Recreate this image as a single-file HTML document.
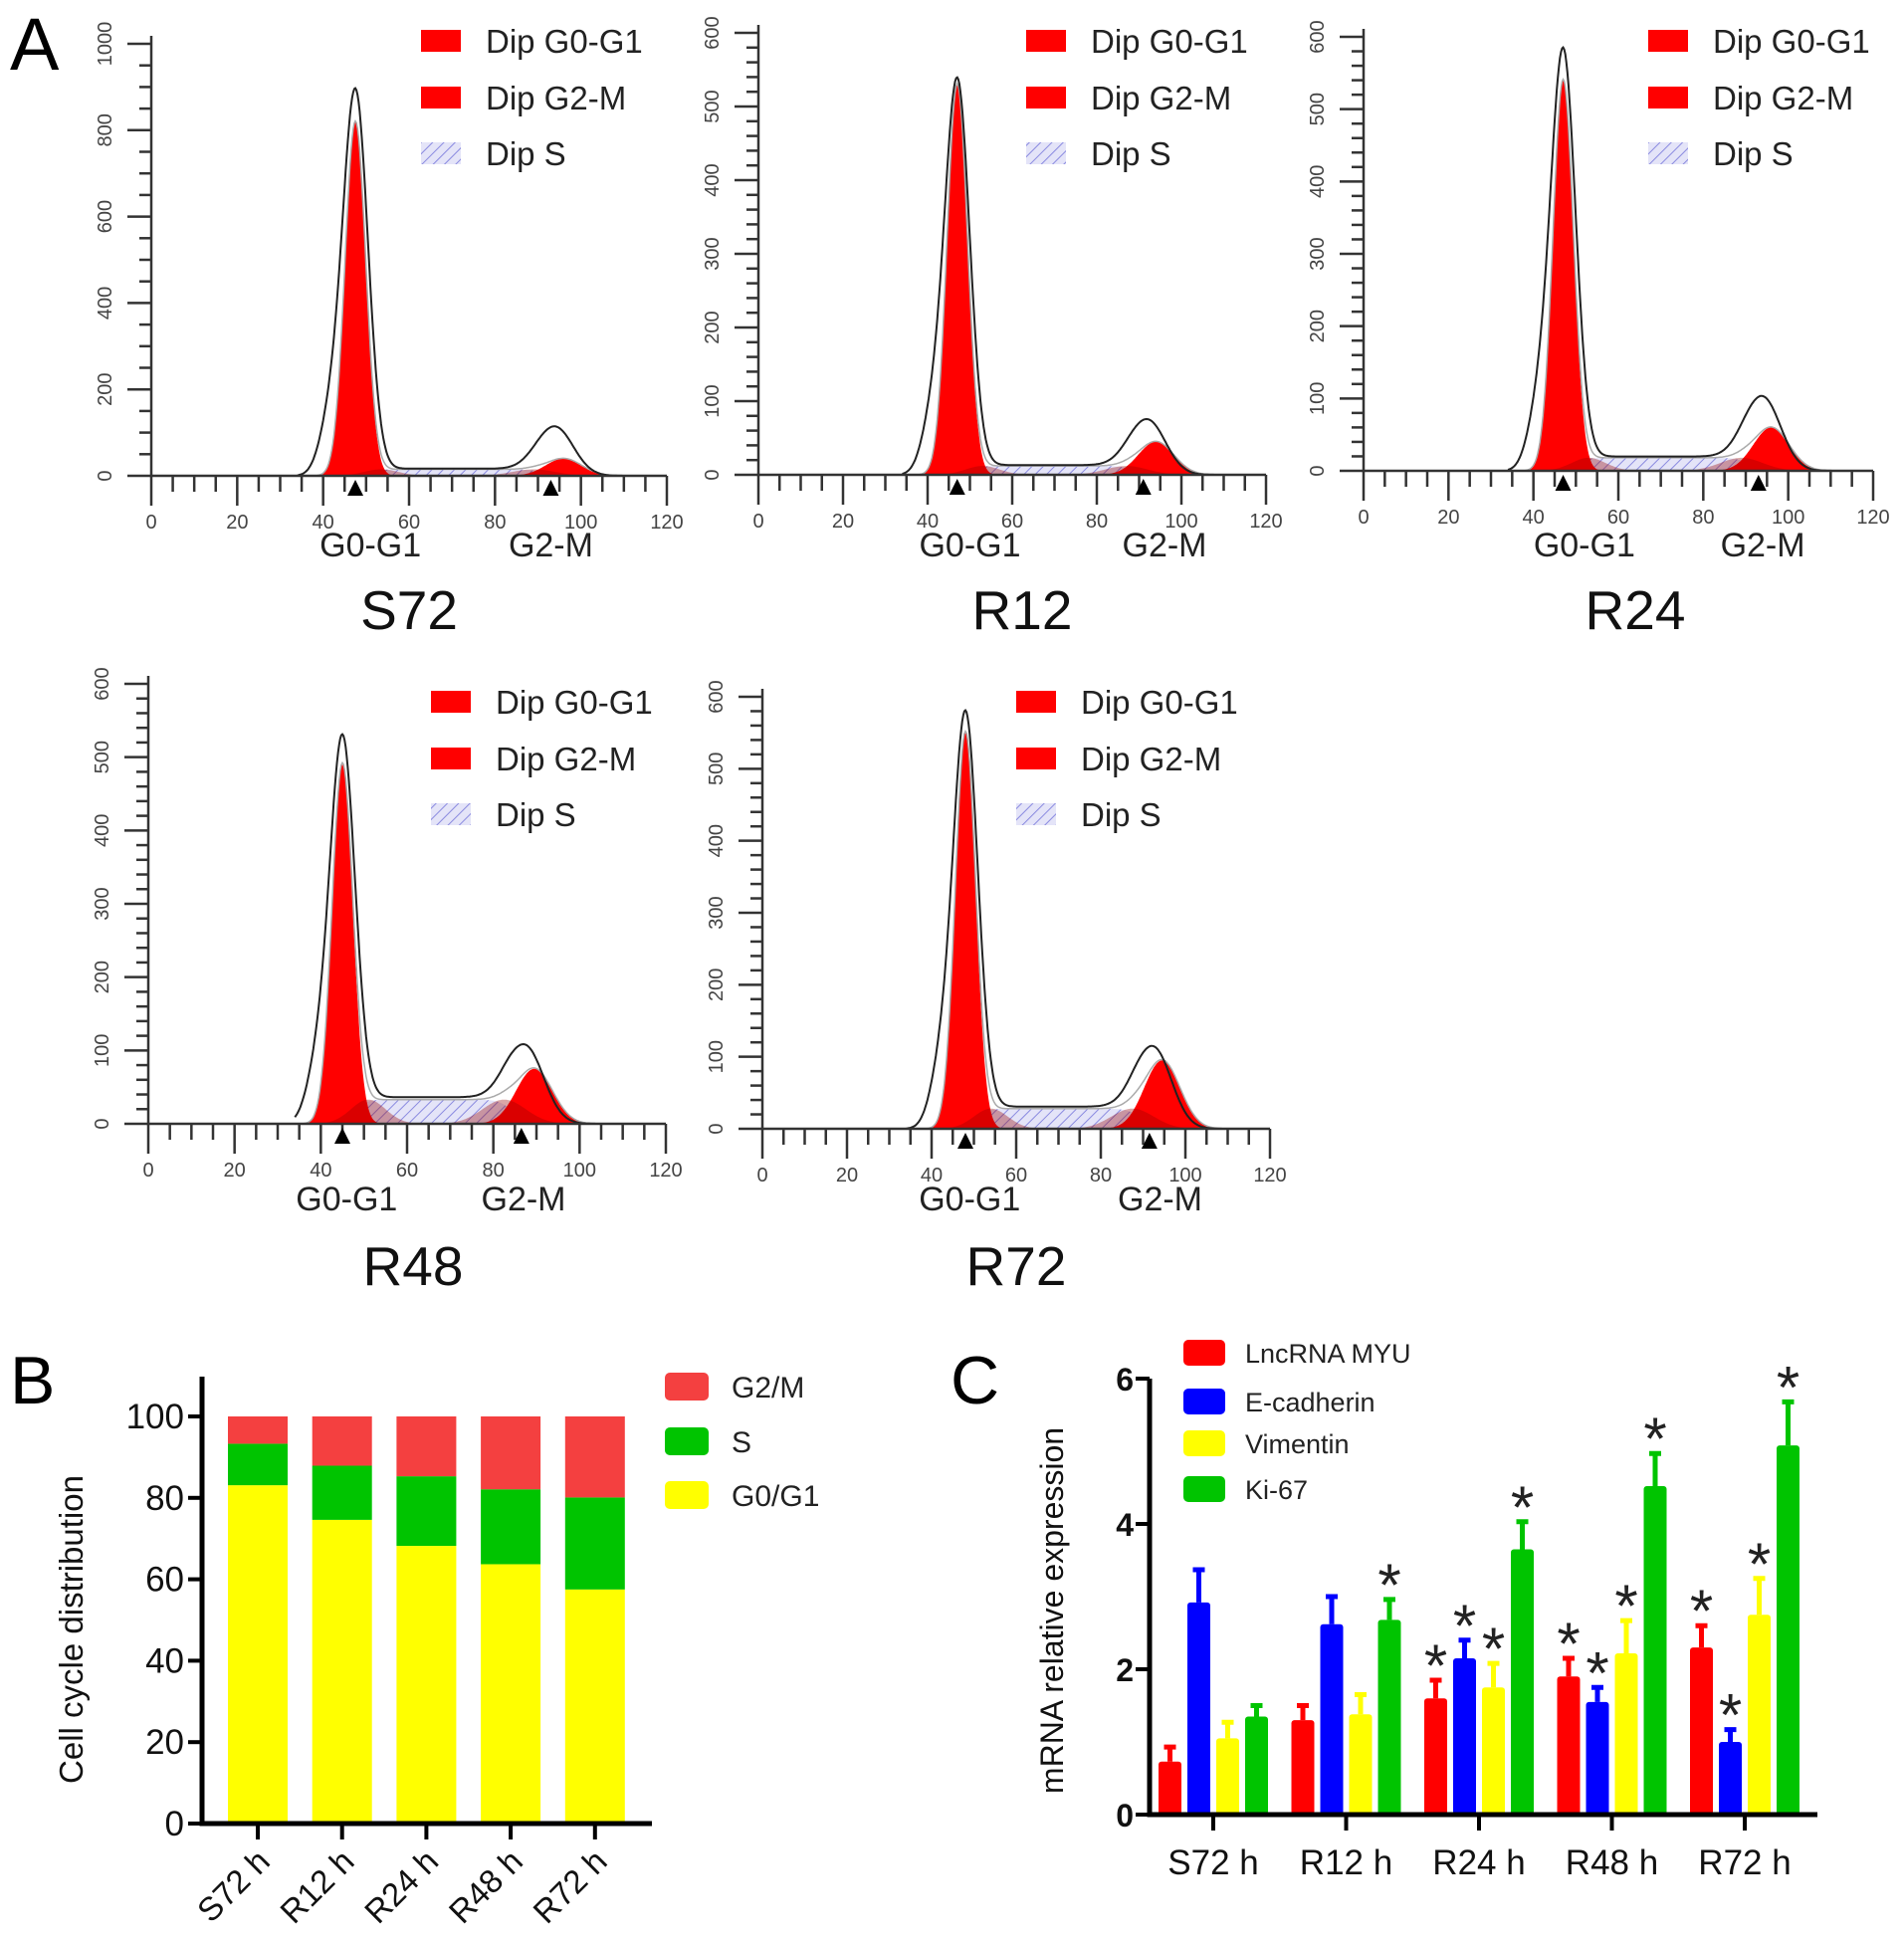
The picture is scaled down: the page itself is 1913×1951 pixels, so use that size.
<!DOCTYPE html>
<html><head><meta charset="utf-8"><style>
html,body{margin:0;padding:0;background:#fff}
svg{display:block}
text{font-family:"Liberation Sans",Arial,sans-serif}
</style></head><body>
<svg id="fig" width="1913" height="1951" viewBox="0 0 1913 1951" xmlns="http://www.w3.org/2000/svg">
<defs>
<pattern id="hatch" patternUnits="userSpaceOnUse" width="8" height="8" patternTransform="rotate(45)">
<rect width="8" height="8" fill="#e4e4f8"/><line x1="0" y1="0" x2="0" y2="8" stroke="#8a8ae0" stroke-width="2"/>
</pattern>
</defs>
<text x="10" y="70" font-size="74">A</text>
<text x="10" y="1410" font-size="68">B</text>
<text x="955" y="1410" font-size="68">C</text>
<g id="histos"></g>
<g id="chartB"></g>
<g id="chartC"></g>
</svg>
<script>
// ---------- Panel A data ----------
const histNames = ["S72","R12","R24","R48","R72"];
const histYMax = [1000,600,600,600,600];
const histG1Mean = [47.5,47,47,45,48];
const histG1Peak = [820,530,540,490,550];
const histG1Total = [890,535,580,525,575];
const histG2Mean = [95,93,95,88.5,93.5];
const histG2Peak = [40,45,60,75,95];
const histG2Total = [120,80,110,120,125];
const histSLevel = [15,12,18,33,28];
// ---------- Panel B data ----------
const bCats = ["S72 h","R12 h","R24 h","R48 h","R72 h"];
const bG1 = [83.1,74.6,68.2,63.7,57.5];
const bS = [10.2,13.3,17.1,18.4,22.6];
const bG2 = [6.7,12.1,14.7,17.9,19.9];
const bTicks = [0,20,40,60,80,100];
// ---------- Panel C data ----------
const cCats = ["S72 h","R12 h","R24 h","R48 h","R72 h"];
const cSeries = ["LncRNA MYU","E-cadherin","Vimentin","Ki-67"];
const cMYU = [0.73,1.3,1.6,1.9,2.3];
const cMYUerr = [0.2,0.2,0.25,0.25,0.3];
const cEcad = [2.92,2.62,2.15,1.55,1.0];
const cEcadErr = [0.45,0.38,0.25,0.2,0.17];
const cVim = [1.05,1.38,1.75,2.22,2.75];
const cVimErr = [0.22,0.27,0.33,0.45,0.5];
const cKi = [1.35,2.68,3.65,4.52,5.08];
const cKiErr = [0.15,0.28,0.38,0.45,0.6];
const cSig = [[0,0,1,1,1],[0,0,1,1,1],[0,0,1,1,1],[0,1,1,1,1]];
const cTicks = [0,2,4,6];

const NS="http://www.w3.org/2000/svg";
function mk(tag,attrs,parent){const e=document.createElementNS(NS,tag);for(const k in attrs)e.setAttribute(k,attrs[k]);parent.appendChild(e);return e;}

// ---------- Panel A layout ----------
const hLayout=[
 {ax:152,ax2:670,y0:478,yTop:44,leg:423,legY:[41,98,154],lab:[51,93],phY:548,nameX:411,nameY:613},
 {ax:762,ax2:1272,y0:477,yTop:33,leg:1031,legY:[41,98,154],lab:[50,96],phY:548,nameX:1027,nameY:613},
 {ax:1370,ax2:1882,y0:473,yTop:37,leg:1656,legY:[41,98,154],lab:[52,94],phY:548,nameX:1643,nameY:613},
 {ax:149,ax2:669,y0:1129,yTop:687,leg:433,legY:[705,762,818],lab:[46,87],phY:1205,nameX:415,nameY:1272},
 {ax:766,ax2:1276,y0:1134,yTop:700,leg:1021,legY:[705,762,818],lab:[49,94],phY:1205,nameX:1021,nameY:1272}
];
const H=document.getElementById('histos');
function gauss(x,m,s){return Math.exp(-0.5*((x-m)/s)**2);}
function sig(z){return 1/(1+Math.exp(-z));}
histNames.forEach((nm,i)=>{
  const L=hLayout[i];
  const g=mk('g',{},H);
  
  
  const X=v=>L.ax+(v/120)*(L.ax2-L.ax);
  const Y=v=>L.y0-(v/histYMax[i])*(L.y0-L.yTop);
  const m1=histG1Mean[i],m2=histG2Mean[i];
  const sFn=x=>histSLevel[i]*sig((x-m1-3)/1.2)*sig((m2-4-x)/1.5);
  const g1=x=>histG1Peak[i]*gauss(x,m1,2.4);
  const g2=x=>histG2Peak[i]*gauss(x,m2+1,4.2);
  const tot=x=>(histG1Total[i])*gauss(x,m1,x<m1?3.0:2.9)+histG1Total[i]*0.12*gauss(x,m1-6,2.5)+(histG2Total[i]-histSLevel[i]*0.5)*gauss(x,m2-1,4.2)+sFn(x)*1.1;
  function area(fn,a,b,fill,name){
    let d='M'+X(a)+','+L.y0;
    for(let x=a;x<=b;x+=0.25)d+=' L'+X(x).toFixed(1)+','+Y(fn(x)).toFixed(1);
    d+=' L'+X(b)+','+L.y0+' Z';
    const p=mk('path',{d:d,fill:fill,stroke:'none'},g);
    
    
  }
  area(sFn,m1,m2,'url(#hatch)','s-phase-area');
  area(g1,m1-9,m1+9,'#ff0000','g0g1-peak');
  area(g2,m2-14,m2+16,'#ff0000','g2m-peak');
  area(x=>histSLevel[i]*gauss(x,(m1+6),4),m1-6,m1+16,'rgba(150,0,0,0.35)','s-tail-left');
  area(x=>histSLevel[i]*gauss(x,(m2-6),5),m2-18,m2+8,'rgba(150,0,0,0.35)','s-tail-right');
  let dm='';for(let x=34;x<=112;x+=0.25){const v=g1(x)+g2(x)+sFn(x);dm+=(dm?' L':'M')+X(x).toFixed(1)+','+Y(v).toFixed(1);}
  const pm=mk('path',{d:dm,fill:'none',stroke:'#aaa','stroke-width':1.5},g);
  
  
  let dt='';for(let x=34;x<=112;x+=0.25){dt+=(dt?' L':'M')+X(x).toFixed(1)+','+Y(tot(x)).toFixed(1);}
  const pt=mk('path',{d:dt,fill:'none',stroke:'#222','stroke-width':2},g);
  
  
  const ax=mk('path',{d:`M${L.ax},${L.yTop-8} L${L.ax},${L.y0} L${L.ax2},${L.y0}`,fill:'none',stroke:'#333','stroke-width':2.5},g);
  
  
  for(let v=0;v<=120;v+=5){
    const big=v%20===0;
    mk('line',{x1:X(v),x2:X(v),y1:L.y0,y2:L.y0+(big?30:16),stroke:'#333','stroke-width':2.5},g);
    if(big){const t=mk('text',{x:X(v),y:L.y0+53,'font-size':20,'text-anchor':'middle',fill:'#444'},g);t.textContent=v;
      }
  }
  const major=histYMax[i]===1000?200:100, minor=histYMax[i]===1000?50:20;
  for(let v=0;v<=histYMax[i];v+=minor){
    const big=v%major===0;
    mk('line',{x1:L.ax,x2:L.ax-(big?24:12),y1:Y(v),y2:Y(v),stroke:'#333','stroke-width':2.5},g);
    if(big){const t=mk('text',{x:0,y:0,'font-size':20,'text-anchor':'middle',fill:'#444',transform:`translate(${L.ax-40},${Y(v)}) rotate(-90)`},g);t.textContent=v;
      }
  }
  [m1,m2-2].forEach(m=>{const tr=mk('path',{d:`M${X(m)-8},${L.y0+20} L${X(m)+8},${L.y0+20} L${X(m)},${L.y0+4} Z`,fill:'#000'},g);
    });
  const la=mk('text',{x:X(L.lab[0]),y:L.phY+11,'font-size':34,'text-anchor':'middle',fill:'#222'},g);la.textContent='G0-G1';
  
  const lb=mk('text',{x:X(L.lab[1]),y:L.phY+11,'font-size':34,'text-anchor':'middle',fill:'#222'},g);lb.textContent='G2-M';
  
  const tn=mk('text',{x:L.nameX,y:L.nameY+19,'font-size':55,'text-anchor':'middle',fill:'#111'},g);tn.textContent=nm;
  
  ['Dip G0-G1','Dip G2-M','Dip S'].forEach((s,k)=>{
    const r=mk('rect',{x:L.leg,y:L.legY[k]-11,width:40,height:22,fill:k<2?'#ff0000':'url(#hatch)'},g);
    
    const t=mk('text',{x:L.leg+65,y:L.legY[k]+12,'font-size':33,fill:'#222'},g);t.textContent=s;
    
  });
});

// ---------- Panel B ----------
const B=document.getElementById('chartB');
const bx0=203,bx1=655,by0=1832,by100=1423,byTop=1383;
const bY=v=>by0-(v/100)*(by0-by100);
const bX=i=>259+i*84.7;
const bw=60;
bCats.forEach((c,i)=>{
  const parts=[[0,bG1[i],'#ffff00','bar-g0g1'],[bG1[i],bG1[i]+bS[i],'#00c400','bar-s'],[bG1[i]+bS[i],bG1[i]+bS[i]+bG2[i],'#f44040','bar-g2m']];
  parts.forEach(p=>{
    const r=mk('rect',{x:bX(i)-bw/2,y:bY(p[1]),width:bw,height:bY(p[0])-bY(p[1]),fill:p[2]},B);
    
    
  });
  mk('line',{x1:bX(i),x2:bX(i),y1:by0,y2:by0+16,stroke:'#000','stroke-width':4},B);
  const t=mk('text',{x:0,y:0,'font-size':33,'text-anchor':'end',fill:'#111',transform:`translate(${bX(i)+14},${by0+40}) rotate(-45)`},B);
  t.textContent=c;
  
  
});
const bAx=mk('path',{d:`M${bx0},${byTop} L${bx0},${by0} L${bx1},${by0}`,fill:'none',stroke:'#000','stroke-width':5},B);

bTicks.forEach(v=>{
  mk('line',{x1:bx0-14,x2:bx0,y1:bY(v),y2:bY(v),stroke:'#000','stroke-width':4},B);
  const t=mk('text',{x:bx0-18,y:bY(v)+12,'font-size':35,'text-anchor':'end',fill:'#111'},B);t.textContent=v;
  
});
const bTitle=mk('text',{x:0,y:0,'font-size':33,'text-anchor':'middle',fill:'#111',transform:'translate(83,1637) rotate(-90)'},B);
bTitle.textContent='Cell cycle distribution';

[['G2/M','#f44040',1393],['S','#00c400',1448],['G0/G1','#ffff00',1502]].forEach(l=>{
  const r=mk('rect',{x:668,y:l[2]-14,width:44,height:28,rx:5,fill:l[1]},B);
  
  const t=mk('text',{x:735,y:l[2]+11,'font-size':30,fill:'#222'},B);t.textContent=l[0];
  
});

// ---------- Panel C ----------
const C=document.getElementById('chartC');
const cx0=1155,cx1=1826,cy0=1823,cUnit=73;
const cY=v=>cy0-v*cUnit;
const cGroup=i=>1219+i*133.5;
const cVals=[cMYU,cEcad,cVim,cKi],cErrs=[cMYUerr,cEcadErr,cVimErr,cKiErr];
const cCols=['#ff0000','#0000ff','#ffff00','#00c400'];
const cw=23,cstep=29;
cCats.forEach((c,i)=>{
  for(let s=0;s<4;s++){
    const xc=cGroup(i)+(s-1.5)*cstep;
    const v=cVals[s][i],e=cErrs[s][i];
    const eb=mk('path',{d:`M${xc},${cY(v)} L${xc},${cY(v+e)} M${xc-6},${cY(v+e)} L${xc+6},${cY(v+e)}`,stroke:cCols[s],'stroke-width':5,fill:'none'},C);
    
    const r=mk('rect',{x:xc-cw/2,y:cY(v),width:cw,height:cY(0)-cY(v),rx:3,fill:cCols[s]},C);
    
    
    if(cSig[s][i]){const t=mk('text',{x:xc,y:cY(v+e)+6,'font-size':60,'text-anchor':'middle',fill:'#222'},C);t.textContent='*';
      }
  }
  mk('line',{x1:cGroup(i),x2:cGroup(i),y1:cy0,y2:cy0+16,stroke:'#000','stroke-width':4},C);
  const t=mk('text',{x:cGroup(i),y:cy0+60,'font-size':35,'text-anchor':'middle',fill:'#111'},C);t.textContent=c;
  
});
const cAx=mk('path',{d:`M${cx0},${cY(6)} L${cx0},${cy0} L${cx1},${cy0}`,fill:'none',stroke:'#000','stroke-width':5},C);

cTicks.forEach(v=>{
  mk('line',{x1:cx0-14,x2:cx0,y1:cY(v),y2:cY(v),stroke:'#000','stroke-width':4},C);
  const t=mk('text',{x:cx0-16,y:cY(v)+12,'font-size':32,'font-weight':'bold','text-anchor':'end',fill:'#111'},C);t.textContent=v;
  
});
const cTitle=mk('text',{x:0,y:0,'font-size':32,'text-anchor':'middle',fill:'#111',transform:'translate(1068,1618) rotate(-90)'},C);
cTitle.textContent='mRNA relative expression';

const cLegY=[1359,1408,1450,1496];
cSeries.forEach((s,k)=>{
  const r=mk('rect',{x:1189,y:cLegY[k]-13,width:42,height:26,rx:5,fill:cCols[k]},C);
  
  const t=mk('text',{x:1251,y:cLegY[k]+10,'font-size':27,fill:'#222'},C);t.textContent=s;
  
});
</script>
</body></html>
